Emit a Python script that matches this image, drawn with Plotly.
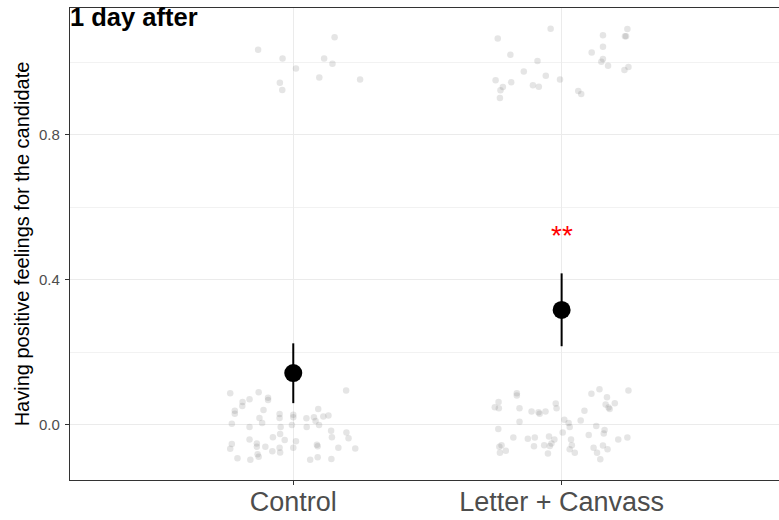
import plotly.graph_objects as go

categories = ["Control", "Letter + Canvass"]
cat_pos = [1, 2]

# point estimates and 95% intervals
est = [0.143, 0.317]
ci_low = [0.060, 0.217]
ci_high = [0.225, 0.418]
stars = ["", "**"]
star_y = [None, 0.533]

# jittered raw observations (x = jittered category position, y = jittered outcome)
ctrl_x = [0.765, 0.871, 0.837, 0.811, 0.810, 0.906, 0.906, 1.197, 0.782, 0.782, 0.889, 0.949, 0.949,
          1.000, 1.000, 0.874, 0.884, 0.771, 0.837, 0.953, 0.995, 1.049, 1.077, 1.093, 1.112, 1.131,
          1.083, 1.096, 1.050, 1.141, 1.144, 1.198, 1.206, 0.951, 0.924, 0.837, 0.864, 0.968, 1.010,
          1.088, 1.091, 1.168, 1.231, 0.771, 0.765, 0.896, 0.864, 0.949, 1.000, 0.922, 0.951, 0.867,
          0.871, 0.792, 0.840, 1.063, 1.091, 1.142,
          0.869, 0.960, 1.154, 1.115, 1.146, 1.010, 0.950, 0.959, 1.097, 1.249]
ctrl_y = [0.087, 0.090, 0.071, 0.063, 0.052, 0.075, 0.069, 0.095, 0.039, 0.031, 0.041, 0.030, 0.019,
          0.028, 0.021, 0.019, 0.005, 0.003, -0.006, -0.006, 0.000, 0.018, 0.021, 0.044, 0.023, 0.026,
          0.011, 0.000, -0.006, -0.016, -0.034, -0.021, -0.037, -0.025, -0.034, -0.040, -0.051, -0.042,
          -0.045, -0.055, -0.059, -0.063, -0.065, -0.053, -0.066, -0.060, -0.060, -0.063, -0.063, -0.073,
          -0.076, -0.081, -0.088, -0.092, -0.096, -0.096, -0.089, -0.094,
          1.035, 1.011, 1.069, 1.011, 0.996, 0.983, 0.944, 0.924, 0.958, 0.953]

lc_x = [1.833, 1.833, 1.765, 1.751, 1.766, 1.843, 1.888, 1.914, 1.918, 1.940, 1.978, 1.981, 1.843,
        1.764, 2.010, 2.026, 2.030, 2.071, 2.085, 2.111, 2.141, 2.169, 2.198, 2.164, 2.175, 2.179,
        2.249, 2.129, 2.160, 2.157, 2.101, 1.820, 1.874, 1.900, 1.953, 1.973, 2.004, 2.035, 2.211,
        2.245, 1.776, 1.768, 1.792, 1.770, 1.897, 1.935, 1.956, 1.962, 2.038, 2.030, 2.049, 1.949,
        2.119, 2.132, 2.154, 2.171, 2.144,
        1.762, 1.959, 1.809, 1.910, 1.859, 1.754, 1.812, 1.781, 1.772, 1.770, 1.893, 1.915, 1.941,
        1.994, 2.062, 2.073, 2.154, 2.245, 2.236, 2.240, 2.154, 2.112, 2.154, 2.148, 2.173, 2.234,
        2.249]
lc_y = [0.087, 0.081, 0.063, 0.049, 0.046, 0.046, 0.037, 0.035, 0.031, 0.037, 0.059, 0.046, 0.009,
        -0.011, 0.014, 0.005, -0.006, 0.012, 0.039, 0.086, 0.098, 0.076, 0.060, 0.056, 0.048, 0.044,
        0.095, -0.003, -0.014, -0.024, -0.028, -0.035, -0.038, -0.035, -0.032, -0.040, -0.021, -0.040,
        -0.040, -0.035, -0.056, -0.060, -0.071, -0.077, -0.059, -0.056, -0.058, -0.051, -0.056, -0.067,
        -0.077, -0.079, -0.063, -0.077, -0.057, -0.067, -0.095,
        1.066, 1.093, 1.021, 1.004, 0.975, 0.951, 0.945, 0.932, 0.923, 0.902, 0.937, 0.933, 0.963,
        0.953, 0.921, 0.913, 1.075, 1.092, 1.072, 1.072, 1.043, 1.027, 1.009, 1.002, 0.991, 0.979,
        0.987]

y_ticks = [0.0, 0.4, 0.8]
y_tick_text = ["0.0", "0.4", "0.8"]

fig = go.Figure()

for xs, ys in [(ctrl_x, ctrl_y), (lc_x, lc_y)]:
    fig.add_trace(go.Scatter(
        x=xs, y=ys, mode="markers",
        marker=dict(size=6.5, color="rgba(110,110,110,0.18)", line=dict(width=0)),
        showlegend=False, hoverinfo="skip"))

fig.add_trace(go.Scatter(
    x=cat_pos, y=est, mode="markers",
    marker=dict(size=18, color="black", line=dict(width=0)),
    error_y=dict(type="data", symmetric=False,
                 array=[h - e for h, e in zip(ci_high, est)],
                 arrayminus=[e - l for e, l in zip(est, ci_low)],
                 width=0, thickness=2, color="black"),
    showlegend=False))

for xp, s, sy in zip(cat_pos, stars, star_y):
    if s:
        fig.add_annotation(x=xp, y=sy, text=s, showarrow=False,
                           font=dict(color="red", size=28, family="Liberation Sans, Arial"),
                           xanchor="center", yanchor="middle", yshift=-4)

fig.add_annotation(xref="paper", yref="paper", x=0, y=1, text="<b>1 day after</b>",
                   showarrow=False, xanchor="left", yanchor="middle", xshift=-2, yshift=-9,
                   font=dict(size=25.5, color="black", family="Liberation Sans, Arial"))

fig.update_layout(
    width=779, height=520,
    margin=dict(l=70, r=0, t=8, b=40),
    paper_bgcolor="white", plot_bgcolor="white",
    font=dict(family="Liberation Sans, Arial", color="#4d4d4d"),
    xaxis=dict(
        range=[0.168, 2.81], tickvals=cat_pos, ticktext=categories,
        tickfont=dict(size=27, color="#4d4d4d"),
        showgrid=True, gridcolor="#ebebeb", gridwidth=1.3,
        zeroline=False, showline=True, linecolor="#333333", linewidth=1.2, mirror=True,
        ticks="outside", ticklen=4, tickcolor="#333333", tickwidth=1.1,
        ticklabelstandoff=-7,
        automargin=False),
    yaxis=dict(
        range=[-0.152, 1.150], tickvals=y_ticks, ticktext=y_tick_text,
        tickfont=dict(size=15, color="#4d4d4d"),
        showgrid=True, gridcolor="#ebebeb", gridwidth=1.3,
        minor=dict(tickvals=[0.2, 0.6, 1.0], showgrid=True, gridcolor="#f2f2f2", gridwidth=1, ticks=""),
        zeroline=False, showline=True, linecolor="#333333", linewidth=1.2, mirror=False,
        ticks="outside", ticklen=4, tickcolor="#333333", tickwidth=1.1,
        ticklabelstandoff=2,
        title=dict(text="Having positive feelings for the candidate",
                   font=dict(size=20, color="black"), standoff=4),
        automargin=False),
)

fig.write_html("out.html")
